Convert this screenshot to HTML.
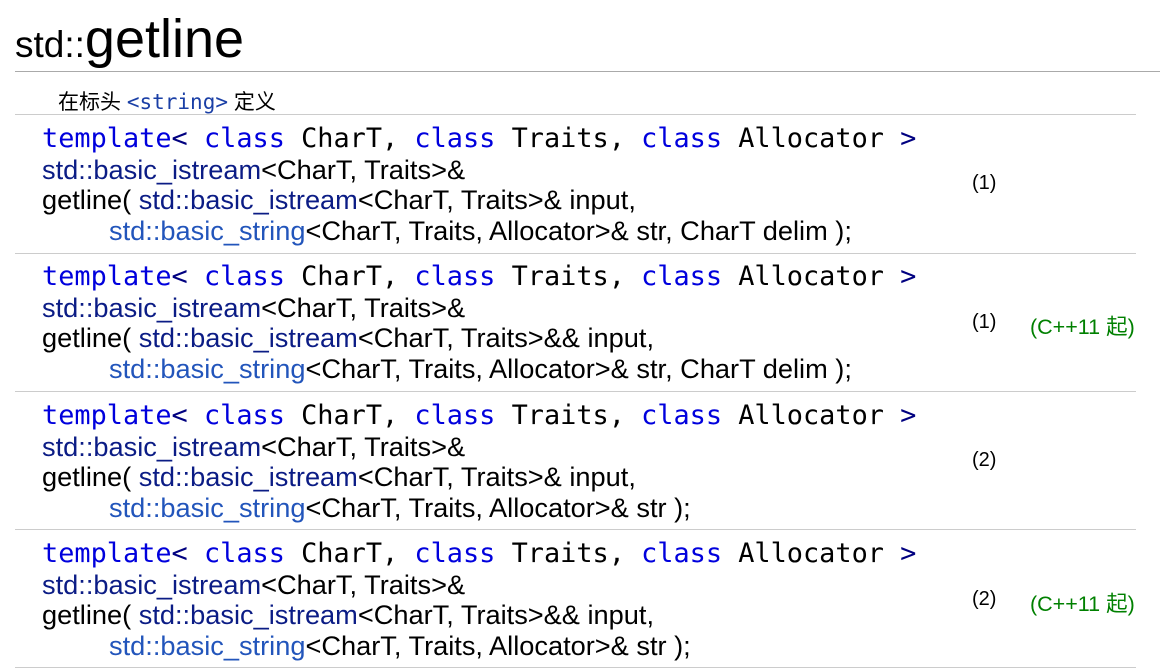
<!DOCTYPE html>
<html><head><meta charset="utf-8"><style>
body{margin:0;width:1160px;height:669px;background:#fff;position:relative;overflow:hidden;font-family:"Liberation Sans","Noto Sans CJK SC",sans-serif;color:#000}
.a{position:absolute;white-space:pre}
.t1{left:15px;top:12px;font-size:54px;line-height:54px}
.t1 small{font-size:37px}
.hr{position:absolute;left:15px;right:0;height:1px;background:#aaa}
.sep{position:absolute;left:15px;width:1121px;height:1px;background:#ccc}
.hd{left:58px;top:88px;font-size:21px;line-height:28px}
.m{font-family:"DejaVu Sans Mono","Liberation Mono",monospace}
.hd .m{color:#1a3fa6;font-size:21px}
.row{position:absolute;left:42px;font-size:27.2px;line-height:30.5px}
.row .tl{font-family:"DejaVu Sans Mono","Liberation Mono",monospace;font-size:26.9px;color:#000;white-space:pre}
.kw{color:#0000dd}.op{color:#000080}
.ln{white-space:pre}
.in{padding-left:67px}
.is{color:#0b1c85}.st{color:#2255bb}
.n{position:absolute;left:972px;font-size:20px}
.c{position:absolute;left:1030px;font-size:21.5px;color:#008000}
</style></head><body>
<div class="a t1"><small>std::</small>getline</div>
<div class="hr" style="top:71px"></div>
<div class="a hd">在标头 <span class="m">&lt;string&gt;</span> 定义</div>
<div class="sep" style="top:114px"></div>

<div class="row" style="top:124px">
<div class="tl"><span class="kw">template</span><span class="op">&lt;</span> <span class="kw">class</span> CharT, <span class="kw">class</span> Traits, <span class="kw">class</span> Allocator <span class="op">&gt;</span></div>
<div class="ln"><span class="is">std::basic_istream</span>&lt;CharT, Traits&gt;&amp;</div>
<div class="ln">getline( <span class="is">std::basic_istream</span>&lt;CharT, Traits&gt;&amp; input,</div>
<div class="ln in"><span class="st">std::basic_string</span>&lt;CharT, Traits, Allocator&gt;&amp; str, CharT delim );</div>
</div>
<div class="n" style="top:172px">(1)</div>
<div class="sep" style="top:253px"></div>

<div class="row" style="top:262px">
<div class="tl"><span class="kw">template</span><span class="op">&lt;</span> <span class="kw">class</span> CharT, <span class="kw">class</span> Traits, <span class="kw">class</span> Allocator <span class="op">&gt;</span></div>
<div class="ln"><span class="is">std::basic_istream</span>&lt;CharT, Traits&gt;&amp;</div>
<div class="ln">getline( <span class="is">std::basic_istream</span>&lt;CharT, Traits&gt;&amp;&amp; input,</div>
<div class="ln in"><span class="st">std::basic_string</span>&lt;CharT, Traits, Allocator&gt;&amp; str, CharT delim );</div>
</div>
<div class="n" style="top:311px">(1)</div><div class="c" style="top:310px">(C++11 起)</div>
<div class="sep" style="top:391px"></div>

<div class="row" style="top:401px">
<div class="tl"><span class="kw">template</span><span class="op">&lt;</span> <span class="kw">class</span> CharT, <span class="kw">class</span> Traits, <span class="kw">class</span> Allocator <span class="op">&gt;</span></div>
<div class="ln"><span class="is">std::basic_istream</span>&lt;CharT, Traits&gt;&amp;</div>
<div class="ln">getline( <span class="is">std::basic_istream</span>&lt;CharT, Traits&gt;&amp; input,</div>
<div class="ln in"><span class="st">std::basic_string</span>&lt;CharT, Traits, Allocator&gt;&amp; str );</div>
</div>
<div class="n" style="top:449px">(2)</div>
<div class="sep" style="top:529px"></div>

<div class="row" style="top:539px">
<div class="tl"><span class="kw">template</span><span class="op">&lt;</span> <span class="kw">class</span> CharT, <span class="kw">class</span> Traits, <span class="kw">class</span> Allocator <span class="op">&gt;</span></div>
<div class="ln"><span class="is">std::basic_istream</span>&lt;CharT, Traits&gt;&amp;</div>
<div class="ln">getline( <span class="is">std::basic_istream</span>&lt;CharT, Traits&gt;&amp;&amp; input,</div>
<div class="ln in"><span class="st">std::basic_string</span>&lt;CharT, Traits, Allocator&gt;&amp; str );</div>
</div>
<div class="n" style="top:588px">(2)</div><div class="c" style="top:587px">(C++11 起)</div>
<div class="sep" style="top:667px"></div>
</body></html>
